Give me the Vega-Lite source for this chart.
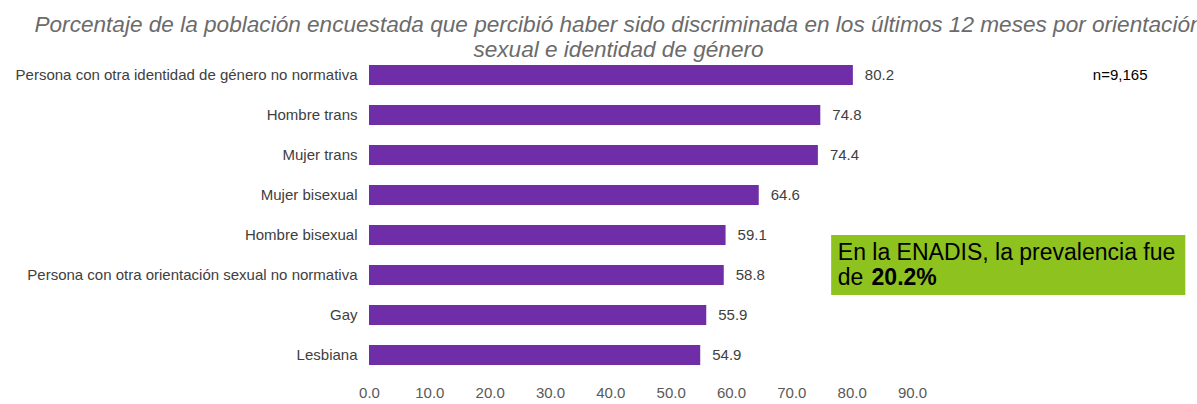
{
  "$schema": "https://vega.github.io/schema/vega-lite/v6.json",
  "width": 543,
  "height": 320,
  "autosize": {"type": "none"},
  "padding": {"left": 369, "top": 55, "right": 285, "bottom": 29},
  "background": "white",
  "config": {"view": {"stroke": null}, "font": "Liberation Sans"},
  "title": {
    "text": ["Porcentaje de la población encuestada que percibió haber sido discriminada en los últimos 12 meses por orientación", "sexual e identidad de género"],
    "anchor": "middle",
    "frame": "group",
    "dx": -22,
    "offset": -30,
    "baseline": "bottom",
    "font": "Liberation Sans",
    "fontSize": 22.6,
    "fontStyle": "italic",
    "fontWeight": "normal",
    "lineHeight": 25,
    "color": "#6b6b6b",
    "limit": 0
  },
  "resolve": {"scale": {"y": "independent"}},
  "layer": [
    {
      "data": {"values": [
        {"grupo": "Persona con otra identidad de género no normativa", "pct": 80.2},
        {"grupo": "Hombre trans", "pct": 74.8},
        {"grupo": "Mujer trans", "pct": 74.4},
        {"grupo": "Mujer bisexual", "pct": 64.6},
        {"grupo": "Hombre bisexual", "pct": 59.1},
        {"grupo": "Persona con otra orientación sexual no normativa", "pct": 58.8},
        {"grupo": "Gay", "pct": 55.9},
        {"grupo": "Lesbiana", "pct": 54.9}
      ]},
      "encoding": {
        "y": {"field": "grupo", "type": "nominal", "sort": null, "title": null,
          "scale": {"paddingInner": 0.5, "paddingOuter": 0.25},
          "axis": {"domain": false, "ticks": false, "labelPadding": 12, "labelLimit": 500, "labelFontSize": 15, "labelColor": "#404040", "labelFont": "Liberation Sans"}},
        "x": {"field": "pct", "type": "quantitative", "title": null,
          "scale": {"domain": [0, 90], "nice": false},
          "axis": {"values": [0,10,20,30,40,50,60,70,80,90], "format": ".1f", "domain": false, "ticks": false, "tickSize": 0, "grid": false, "labelFlush": false, "labelPadding": 10, "labelFontSize": 15, "labelColor": "#595959", "labelFont": "Liberation Sans"}}
      },
      "layer": [
        {"mark": {"type": "bar", "color": "#6F2DA8"}},
        {"mark": {"type": "text", "align": "left", "baseline": "middle", "dx": 12, "fontSize": 15, "color": "#404040", "font": "Liberation Sans"},
         "encoding": {"text": {"field": "pct", "type": "quantitative", "format": ".1f"}}}
      ]
    },
    {
      "layer": [
        {
          "data": {"values": [{"nota": "ENADIS"}]},
          "mark": {"type": "rect", "color": "#8DC21F"},
          "encoding": {
            "x": {"datum": 76.6, "type": "quantitative", "scale": {"domain": [0, 90], "nice": false}},
            "x2": {"datum": 135.3},
            "y": {"datum": 4.5, "type": "quantitative", "scale": {"domain": [0, 8], "reverse": true, "nice": false}, "axis": null},
            "y2": {"datum": 6.0}
          }
        },
        {
          "data": {"values": [{"nota": "En la ENADIS, la prevalencia fue"}]},
          "mark": {"type": "text", "align": "left", "baseline": "middle", "fontSize": 23, "color": "#000000", "font": "Liberation Sans"},
          "encoding": {
            "x": {"datum": 77.7, "type": "quantitative", "scale": {"domain": [0, 90], "nice": false}},
            "y": {"datum": 4.94, "type": "quantitative", "scale": {"domain": [0, 8], "reverse": true, "nice": false}, "axis": null},
            "text": {"field": "nota", "type": "nominal"}
          }
        },
        {
          "data": {"values": [{"nota": "de"}]},
          "mark": {"type": "text", "align": "left", "baseline": "middle", "fontSize": 23, "color": "#000000", "font": "Liberation Sans"},
          "encoding": {
            "x": {"datum": 77.7, "type": "quantitative", "scale": {"domain": [0, 90], "nice": false}},
            "y": {"datum": 5.57, "type": "quantitative", "scale": {"domain": [0, 8], "reverse": true, "nice": false}, "axis": null},
            "text": {"field": "nota", "type": "nominal"}
          }
        },
        {
          "data": {"values": [{"nota": "20.2%"}]},
          "mark": {"type": "text", "align": "left", "baseline": "middle", "fontSize": 23, "fontWeight": "bold", "color": "#000000", "font": "Liberation Sans"},
          "encoding": {
            "x": {"datum": 83.3, "type": "quantitative", "scale": {"domain": [0, 90], "nice": false}},
            "y": {"datum": 5.57, "type": "quantitative", "scale": {"domain": [0, 8], "reverse": true, "nice": false}, "axis": null},
            "text": {"field": "nota", "type": "nominal"}
          }
        },
        {
          "data": {"values": [{"nota": "n=9,165"}]},
          "mark": {"type": "text", "align": "center", "baseline": "middle", "fontSize": 15, "color": "#000000", "font": "Liberation Sans"},
          "encoding": {
            "x": {"datum": 124.5, "type": "quantitative", "scale": {"domain": [0, 90], "nice": false}},
            "y": {"datum": 0.5, "type": "quantitative", "scale": {"domain": [0, 8], "reverse": true, "nice": false}, "axis": null},
            "text": {"field": "nota", "type": "nominal"}
          }
        }
      ]
    }
  ]
}
